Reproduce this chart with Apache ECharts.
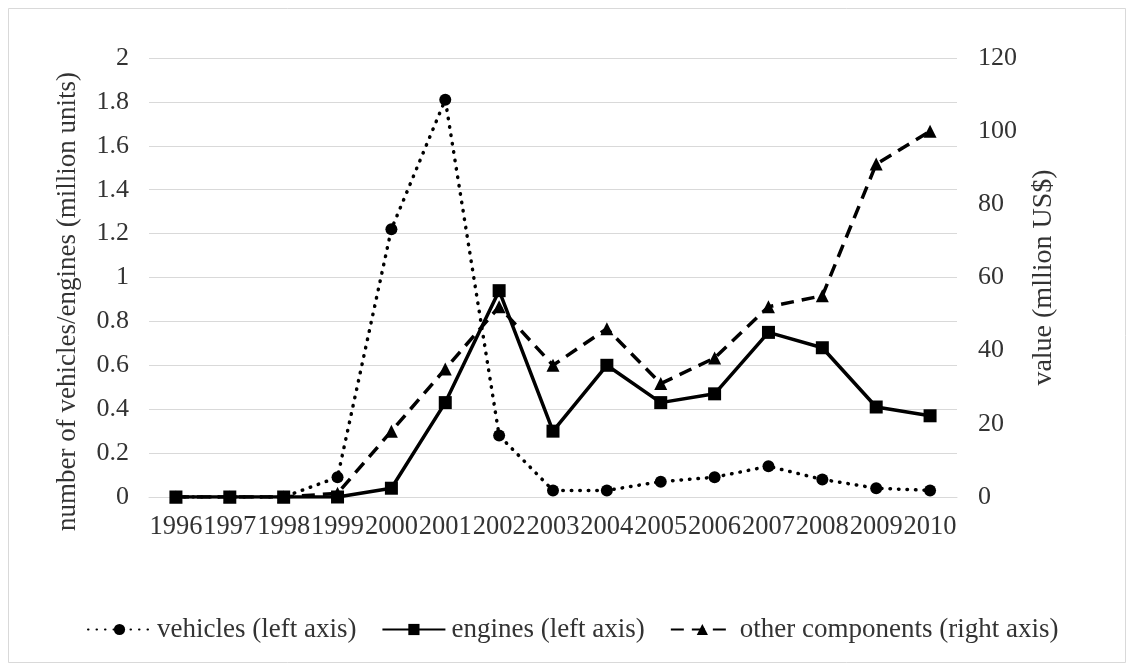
<!DOCTYPE html>
<html>
<head>
<meta charset="utf-8">
<script src="https://cdn.jsdelivr.net/npm/echarts@6/dist/echarts.min.js"></script>
<style>
html,body{margin:0;padding:0;background:#fff;}
#chart{width:1128px;height:666px;}
</style>
</head>
<body>
<div id="chart"></div>
<script>
const years = ['1996','1997','1998','1999','2000','2001','2002','2003','2004','2005','2006','2007','2008','2009','2010'];
const vehicles = [0, 0, 0, 0.09, 1.22, 1.81, 0.28, 0.03, 0.03, 0.07, 0.09, 0.14, 0.08, 0.04, 0.03];
const engines = [0, 0, 0, 0, 0.04, 0.43, 0.94, 0.30, 0.60, 0.43, 0.47, 0.75, 0.68, 0.41, 0.37];
const otherComponents = [0, 0, 0, 1, 18, 35, 52, 36, 46, 31, 38, 52, 55, 91, 100];
const seriesNames = ['vehicles (left axis)', 'engines (left axis)', 'other components (right axis)'];
const leftAxisTitle = 'number of vehicles/engines (million units)';
const rightAxisTitle = 'value (mllion US$)';

const FONT = '"Liberation Serif", "Times New Roman", serif';
const TXT = '#333333';
const chart = echarts.init(document.getElementById('chart'), null, {renderer: 'canvas'});
chart.setOption({
  animation: false,
  backgroundColor: '#fff',
  textStyle: {fontFamily: FONT, color: TXT},
  graphic: [{
    type: 'rect', left: 6, top: 6, z: -10,
    shape: {width: 1117, height: 654},
    style: {fill: 'none', stroke: '#d9d9d9', lineWidth: 1}
  }],
  grid: {left: 149, right: 171, top: 58, bottom: 169, containLabel: false},
  legend: {
    left: 82, top: 611,
    itemWidth: 63, itemHeight: 14, itemGap: 25,
    textStyle: {fontFamily: FONT, fontSize: 27, color: TXT, padding: [0, 0, 0, 1]},
    data: seriesNames
  },
  xAxis: {
    type: 'category', data: years, boundaryGap: true,
    axisLine: {show: true, lineStyle: {color: '#d9d9d9', width: 1}},
    axisTick: {show: false},
    axisLabel: {interval: 0, margin: 17, fontFamily: FONT, fontSize: 26.5, color: TXT}
  },
  yAxis: [{
    type: 'value', min: 0, max: 2, interval: 0.2,
    name: leftAxisTitle, nameLocation: 'middle', nameGap: 68,
    nameTextStyle: {fontFamily: FONT, fontSize: 27, color: TXT, padding: [0, 48, 0, 0]},
    axisLine: {show: false}, axisTick: {show: false},
    axisLabel: {margin: 20, fontFamily: FONT, fontSize: 26, color: TXT,
      formatter: v => String(+v.toFixed(1))},
    splitLine: {show: true, lineStyle: {color: '#d9d9d9', width: 1}}
  }, {
    type: 'value', min: 0, max: 120, interval: 20,
    name: rightAxisTitle, nameLocation: 'middle', nameGap: 73,
    nameTextStyle: {fontFamily: FONT, fontSize: 28, color: TXT},
    axisLine: {show: false}, axisTick: {show: false},
    axisLabel: {margin: 21, fontFamily: FONT, fontSize: 26, color: TXT},
    splitLine: {show: false}
  }],
  series: [{
    name: seriesNames[0], type: 'line', yAxisIndex: 0, data: vehicles,
    symbol: 'circle', symbolSize: 12,
    itemStyle: {color: '#000'},
    lineStyle: {color: '#000', width: 3.5, type: [0.5, 8], cap: 'round'},
    z: 2
  }, {
    name: seriesNames[1], type: 'line', yAxisIndex: 0, data: engines,
    symbol: 'rect', symbolSize: 13,
    itemStyle: {color: '#000'},
    lineStyle: {color: '#000', width: 3.5, type: 'solid'},
    z: 4
  }, {
    name: seriesNames[2], type: 'line', yAxisIndex: 1, data: otherComponents,
    symbol: 'triangle', symbolSize: 13,
    itemStyle: {color: '#000'},
    lineStyle: {color: '#000', width: 3.5, type: [13, 8]},
    z: 3
  }]
});
</script>
</body>
</html>
